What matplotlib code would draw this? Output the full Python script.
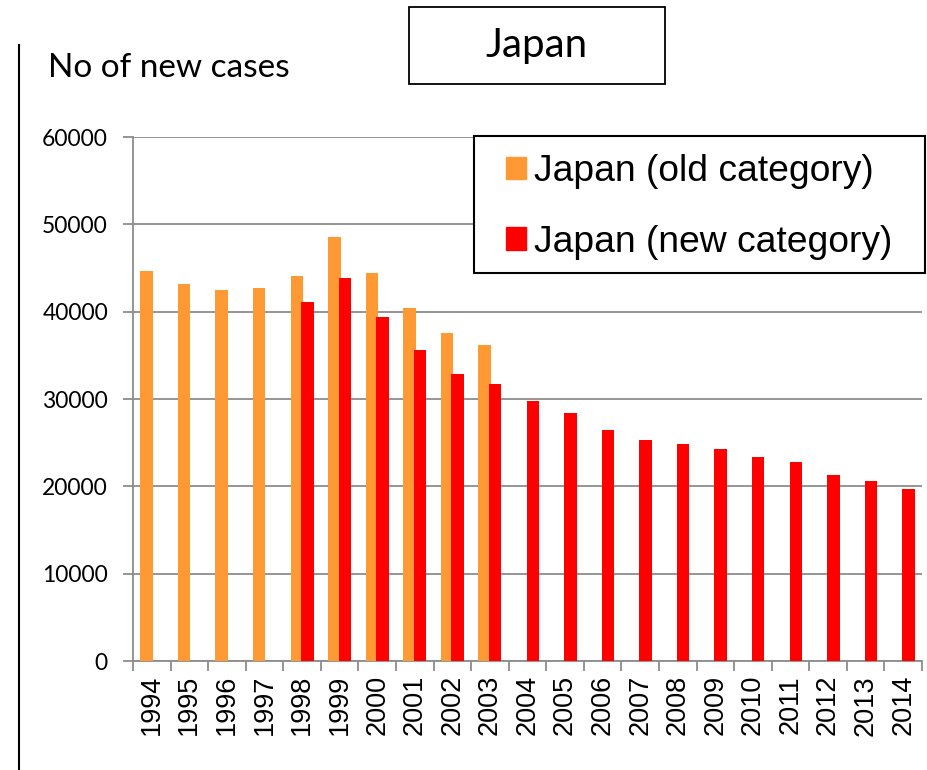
import matplotlib.pyplot as plt
from matplotlib.patches import Patch, Rectangle
import numpy as np

years = [str(y) for y in range(1994, 2015)]
# old category (1994-2003), new category (1998-2014); None = no bar
old_cases = [44650, 43130, 42520, 42750, 44090, 48500, 44430, 40380, 37560, 36180,
             None, None, None, None, None, None, None, None, None, None, None]
new_cases = [None, None, None, None, 41070, 43890, 39430, 35570, 32860, 31680,
             29770, 28360, 26450, 25340, 24810, 24240, 23320, 22750, 21340, 20570, 19700]

W, H = 928, 770
fig = plt.figure(figsize=(W / 100, H / 100), dpi=100)
ax = fig.add_axes([133 / W, 1 - 661 / H, 789 / W, 524 / H])

x = np.arange(len(years))
w = 0.33
for i in range(len(years)):
    if old_cases[i] is not None:
        ax.bar(x[i] - 0.14, old_cases[i], width=w, color='#FF9933', zorder=3)
for i in range(len(years)):
    if new_cases[i] is not None:
        ax.bar(x[i] + 0.14, new_cases[i], width=w, color='#FF0000', zorder=4)

ax.set_xlim(-0.5, len(years) - 0.5)
ax.set_ylim(0, 60000)
ax.yaxis.grid(True, color='#8c8c8c', linewidth=1.3, zorder=0)
for s in ['top', 'right']:
    ax.spines[s].set_visible(False)
for s in ['left', 'bottom']:
    ax.spines[s].set_color('#8c8c8c')
    ax.spines[s].set_linewidth(1.3)

ax.set_xticks(x)
ax.set_xticks(np.arange(-0.5, len(years), 1), minor=True)
ax.tick_params(axis='x', which='major', length=0, pad=10)
ax.tick_params(axis='x', which='minor', length=7, color='#8c8c8c', width=1.3)
ax.tick_params(axis='y', length=7, color='#8c8c8c', width=1.3, pad=11)
ax.set_xticklabels(years, rotation=90, fontsize=19.5, fontfamily='Liberation Sans')
ax.set_yticks(range(0, 60001, 10000))
ax.set_yticklabels([str(v) for v in range(0, 60001, 10000)], fontsize=16.5, fontfamily='Lato')

# legend box
fig.add_artist(Rectangle((474 / W, 1 - 273 / H), 451 / W, 137 / H, transform=fig.transFigure,
                         facecolor='white', edgecolor='black', linewidth=1.5, zorder=2))
handles = [Patch(color='#FF9933', label='Japan (old category)'),
           Patch(color='#FF0000', label='Japan (new category)')]
fig.legend(handles=handles, loc='center', bbox_to_anchor=(699 / W, 1 - 207 / H),
           prop={'family': 'Liberation Sans', 'size': 26.8},
           handlelength=0.55, handleheight=0.55, handletextpad=0.22, labelspacing=0.95,
           borderpad=0, borderaxespad=0, frameon=False)

fig.text(48 / W, 1 - 68 / H, 'No of new cases', fontsize=24, family='Lato', va='center')

# title box
fig.add_artist(Rectangle((409 / W, 1 - 84 / H), 256 / W, 77 / H, transform=fig.transFigure,
                         facecolor='white', edgecolor='black', linewidth=1.3, zorder=2))
fig.text(537 / W, 1 - 46 / H, 'Japan', fontsize=29, family='Lato', ha='center', va='center',
         zorder=3)

fig.add_artist(plt.Line2D([19 / W, 19 / W], [0, 1 - 45 / H], color='black', linewidth=1.5,
                          transform=fig.transFigure))

fig.savefig('out.png', dpi=100)
